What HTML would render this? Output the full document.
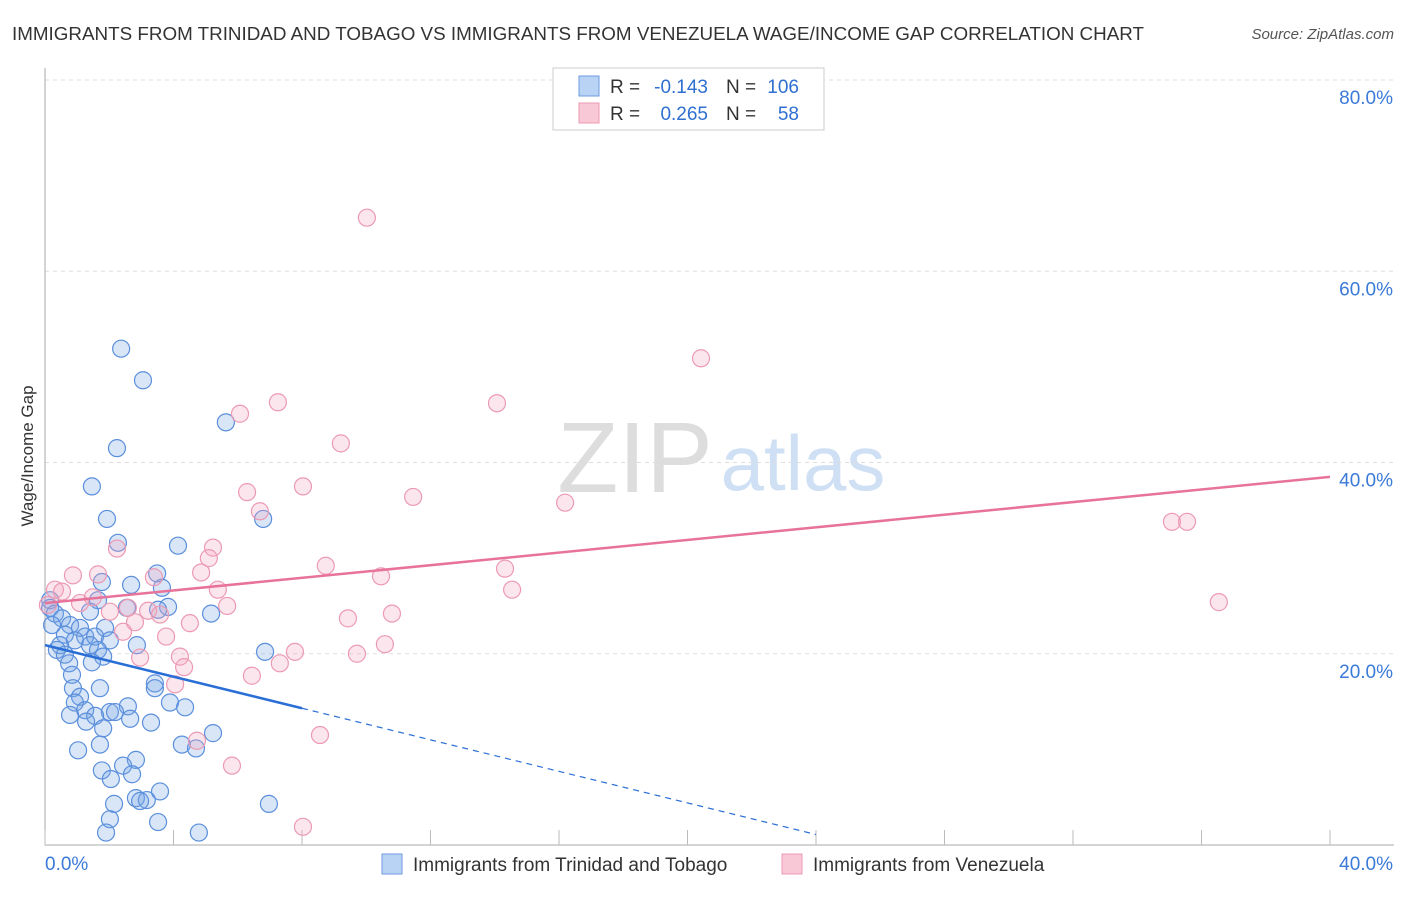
<!DOCTYPE html>
<html><head><meta charset="utf-8"><style>
body{margin:0;background:#fff;font-family:"Liberation Sans",sans-serif}
svg text{font-family:"Liberation Sans",sans-serif}
</style></head><body>
<svg id="c" width="1406" height="892" xmlns="http://www.w3.org/2000/svg">
<text x="12" y="40" font-size="18" fill="#333" textLength="1132" lengthAdjust="spacingAndGlyphs">IMMIGRANTS FROM TRINIDAD AND TOBAGO VS IMMIGRANTS FROM VENEZUELA WAGE/INCOME GAP CORRELATION CHART</text>
<text x="1394" y="39" font-size="15" fill="#555" font-style="italic" text-anchor="end">Source: ZipAtlas.com</text>
<text transform="translate(33,456) rotate(-90)" font-size="17" fill="#333" text-anchor="middle">Wage/Income Gap</text>
<g>
<text x="635" y="492" font-size="100" fill="#ddd" font-family="Liberation Serif,serif" text-anchor="middle">ZIP</text>
<text x="803" y="490" font-size="78" fill="#cfe0f5" text-anchor="middle">atlas</text>
</g>
<g id="grid"></g><g id="axes"></g><g id="pts"></g><g id="trend"></g>
<g>
<rect x="553" y="68" width="271" height="62" fill="#fff" stroke="#ccc"/>
<rect x="579" y="76" width="20" height="20" fill="#b9d3f5" stroke="#6d9be0"/>
<rect x="579" y="103" width="20" height="20" fill="#f8c8d6" stroke="#ec9ab3"/>
<text x="610" y="93" font-size="19" fill="#333">R =</text>
<text x="708" y="93" font-size="19" fill="#2e6fd1" text-anchor="end">-0.143</text>
<text x="726" y="93" font-size="19" fill="#333">N =</text>
<text x="799" y="93" font-size="19" fill="#2e6fd1" text-anchor="end">106</text>
<text x="610" y="120" font-size="19" fill="#333">R =</text>
<text x="708" y="120" font-size="19" fill="#2e6fd1" text-anchor="end">0.265</text>
<text x="726" y="120" font-size="19" fill="#333">N =</text>
<text x="799" y="120" font-size="19" fill="#2e6fd1" text-anchor="end">58</text>
</g>
<g>
<rect x="382" y="854" width="20" height="20" fill="#b9d3f5" stroke="#6d9be0"/>
<text x="413" y="871" font-size="19" fill="#333">Immigrants from Trinidad and Tobago</text>
<rect x="782" y="854" width="20" height="20" fill="#f8c8d6" stroke="#ec9ab3"/>
<text x="813" y="871" font-size="19" fill="#333">Immigrants from Venezuela</text>
</g>
</svg>
<script>
const yTicks=[20,40,60,80];
const yTickLabels=["20.0%","40.0%","60.0%","80.0%"];
const xTicks=[0,4,8,12,16,20,24,28,32,36,40];
const blueX=[2.37,3.05,5.63,2.24,1.46,1.93,6.79,2.27,4.14,3.49,2.68,1.77,3.64,3.83,3.52,5.17,2.55,1.65,1.40,0.16,0.16,0.31,0.53,0.22,0.78,1.09,1.87,0.62,1.25,1.56,0.93,2.02,0.47,1.40,1.65,2.86,0.37,0.62,1.81,1.46,0.75,6.85,0.84,3.42,3.42,0.87,1.71,1.09,0.93,3.89,4.36,2.58,1.25,2.02,2.18,0.78,1.56,2.65,1.28,3.30,1.81,5.23,4.26,4.70,1.71,1.03,2.83,2.43,1.77,2.71,2.05,3.58,2.15,2.83,3.17,2.96,6.97,2.02,3.52,1.90,4.79];
const blueY=[51.9,48.6,44.2,41.5,37.5,34.1,34.1,31.6,31.3,28.4,27.2,27.5,26.9,24.9,24.6,24.2,24.8,25.6,24.4,25.6,24.8,24.2,23.7,23.0,23.0,22.7,22.7,22.0,21.8,21.8,21.4,21.4,20.9,20.9,20.4,20.9,20.4,19.9,19.7,19.1,19.0,20.2,17.8,16.9,16.4,16.4,16.4,15.5,14.9,14.9,14.4,14.5,14.1,13.9,13.9,13.6,13.5,13.2,12.9,12.8,12.2,11.7,10.5,10.1,10.5,9.9,8.9,8.3,7.8,7.4,6.9,5.6,4.3,4.9,4.7,4.6,4.3,2.7,2.4,1.3,1.3];
const pinkX=[10.02,20.42,6.07,7.25,14.07,9.21,6.29,8.03,11.46,16.19,6.69,35.08,35.55,2.24,5.23,5.10,8.74,14.32,10.46,0.87,1.65,3.39,4.86,14.54,5.38,0.31,0.53,1.49,1.09,36.54,2.58,5.67,3.21,2.02,3.58,10.80,9.43,2.80,4.51,2.43,3.77,10.58,7.78,9.71,4.20,2.96,7.31,4.33,6.44,4.05,8.56,4.73,5.82,8.03,0.09];
const pinkY=[65.6,50.9,45.1,46.3,46.2,42.0,36.9,37.5,36.4,35.8,34.9,33.8,33.8,31.0,31.1,30.0,29.2,28.9,28.1,28.2,28.3,28.0,28.5,26.7,26.7,26.7,26.5,25.9,25.3,25.4,24.8,25.0,24.5,24.4,24.1,24.2,23.7,23.3,23.2,22.3,21.8,21.0,20.2,20.0,19.7,19.6,19.0,18.6,17.7,16.8,11.5,10.9,8.3,1.9,25.1];
const blueTrend=[20.9,-0.825];
const pinkTrend=[25.3,0.33];
const NS="http://www.w3.org/2000/svg";
const X=v=>45+v*32.125, Y=v=>845-v*9.5625;
function mk(t,a,p){const e=document.createElementNS(NS,t);for(const k in a)e.setAttribute(k,a[k]);p.appendChild(e);return e;}
const grid=document.getElementById('grid'),axes=document.getElementById('axes'),pts=document.getElementById('pts'),tr=document.getElementById('trend');
yTicks.forEach((t,i)=>{
 const l=mk('line',{x1:45,x2:1394,y1:Y(t),y2:Y(t),stroke:'#ddd','stroke-dasharray':'4,4'},grid);
 
 
 const tx=mk('text',{x:1393,y:Y(t)+24,'font-size':19,fill:'#3b7ad8','text-anchor':'end'},axes);
 tx.textContent=yTickLabels[i];
 
 
});
const ax=mk('path',{d:`M45,68 V845 H1394`,stroke:'#aaa',fill:'none'},axes);


xTicks.forEach(t=>{
 const l=mk('line',{x1:X(t),x2:X(t),y1:830,y2:845,stroke:'#bbb'},axes);
 
 
});
[[0,'0.0%','start',45],[40,'40.0%','end',1393]].forEach(d=>{
 const tx=mk('text',{x:d[3],y:870,'font-size':19,fill:'#3b7ad8','text-anchor':d[2]},axes);
 tx.textContent=d[1];
 
 
});
blueX.forEach((v,i)=>{
 const c=mk('circle',{cx:X(v),cy:Y(blueY[i]),r:8.5,fill:'rgba(120,165,230,0.28)',stroke:'#5b8fdc','stroke-width':1.2},pts);
 
 
});
pinkX.forEach((v,i)=>{
 const c=mk('circle',{cx:X(v),cy:Y(pinkY[i]),r:8.5,fill:'rgba(245,165,192,0.28)',stroke:'#ec9ab3','stroke-width':1.2},pts);
 
 
});
const bf=x=>blueTrend[0]+blueTrend[1]*x, pf=x=>pinkTrend[0]+pinkTrend[1]*x;
let l=mk('line',{x1:X(0),y1:Y(bf(0)),x2:X(8),y2:Y(bf(8)),stroke:'#2a6fd6','stroke-width':2.5},tr);


l=mk('line',{x1:X(8),y1:Y(bf(8)),x2:X(24),y2:Y(bf(24)),stroke:'#2a6fd6','stroke-width':1.2,'stroke-dasharray':'6,5'},tr);


l=mk('line',{x1:X(0),y1:Y(pf(0)),x2:X(40),y2:Y(pf(40)),stroke:'#e8739a','stroke-width':2.5},tr);


</script>
</body></html>
